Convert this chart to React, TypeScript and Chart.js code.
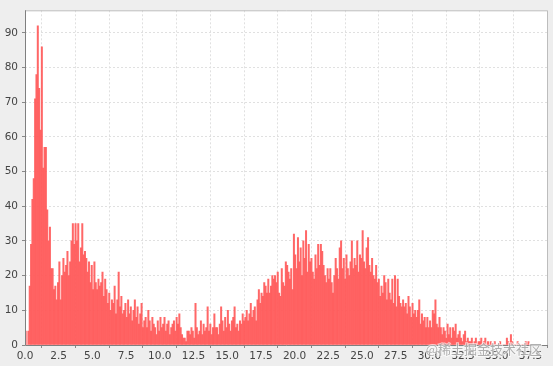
import React, { useEffect, useRef } from "react";
import { Chart, registerables } from "chart.js";

Chart.register(...registerables);

// Histogram bin width and counts (bins start at 0.0, step 0.1)
const binWidth = 0.1;
const counts: number[] = [
  // 0.0 - 0.9
  4, 0, 4, 17, 29, 42, 48, 71, 78, 92,
  // 1.0
  74, 62, 86, 51, 57, 57, 39, 30, 34, 22,
  // 2.0
  22, 16, 17, 13, 18, 24, 13, 20, 25, 21,
  // 3.0
  23, 27, 20, 24, 30, 35, 29, 35, 30, 35,
  // 4.0
  24, 28, 35, 26, 27, 25, 21, 24, 18, 23,
  // 5.0
  16, 24, 18, 16, 19, 17, 18, 21, 14, 19,
  // 6.0
  16, 12, 15, 10, 13, 12, 17, 9, 13, 21,
  // 7.0
  11, 14, 9, 10, 12, 8, 13, 9, 11, 7,
  // 8.0
  10, 13, 8, 11, 6, 9, 12, 5, 7, 8,
  // 9.0
  5, 10, 7, 4, 8, 6, 5, 3, 7, 4,
  // 10.0
  8, 5, 6, 8, 4, 6, 7, 3, 5, 6,
  // 11.0
  7, 4, 8, 6, 9, 5, 3, 2, 2, 1,
  // 12.0
  4, 4, 3, 5, 4, 2, 12, 5, 3, 4,
  // 13.0
  7, 3, 6, 4, 5, 11, 4, 6, 3, 5,
  // 14.0
  9, 5, 5, 3, 6, 11, 7, 4, 8, 5,
  // 15.0
  10, 6, 4, 7, 8, 11, 5, 6, 4, 7,
  // 16.0
  6, 9, 7, 8, 10, 7, 9, 12, 8, 10,
  // 17.0
  11, 7, 13, 16, 12, 15, 14, 18, 17, 15,
  // 18.0
  19, 15, 17, 20, 19, 20, 18, 21, 15, 14,
  // 19.0
  22, 18, 17, 24, 23, 21, 19, 22, 16, 32,
  // 20.0
  26, 22, 31, 24, 28, 20, 30, 25, 33, 21,
  // 21.0
  29, 24, 25, 21, 19, 26, 22, 29, 23, 29,
  // 22.0
  27, 23, 20, 18, 22, 19, 22, 18, 15, 20,
  // 23.0
  25, 22, 19, 28, 30, 22, 25, 19, 26, 22,
  // 24.0
  20, 24, 30, 22, 25, 23, 30, 21, 26, 25,
  // 25.0
  33, 24, 22, 28, 31, 23, 21, 25, 20, 19,
  // 26.0
  23, 18, 19, 14, 17, 15, 20, 18, 13, 19,
  // 27.0
  15, 13, 19, 12, 20, 11, 19, 14, 12, 11,
  // 28.0
  13, 11, 12, 9, 14, 11, 8, 12, 9, 10,
  // 29.0
  8, 10, 13, 6, 9, 7, 8, 5, 8, 5,
  // 30.0
  7, 5, 10, 9, 13, 6, 5, 8, 5, 3,
  // 31.0
  5, 4, 2, 6, 3, 5, 2, 5, 4, 6,
  // 32.0
  2, 3, 4, 2, 1, 3, 4, 1, 2, 1,
  // 33.0
  1, 2, 0, 1, 2, 0, 1, 1, 2, 0,
  // 34.0
  1, 2, 0, 1, 0, 1, 0, 0, 1, 0,
  // 35.0
  0, 0, 1, 0, 0, 0, 0, 2, 1, 0,
  // 36.0
  3, 1, 0, 0, 0, 1, 0, 0, 0, 0,
  // 37.0
  0, 1, 0, 1, 0,
];

const xTicks: number[] = [0, 2.5, 5, 7.5, 10, 12.5, 15, 17.5, 20, 22.5, 25, 27.5, 30, 32.5, 35, 37.5];
const yTicks: number[] = [0, 10, 20, 30, 40, 50, 60, 70, 80, 90];
const watermark = "@稀土掘金技术社区";

const framePlugin = {
  id: "frame",
  beforeDraw(chart: any) {
    const { ctx, chartArea: a, width, height } = chart;
    ctx.save();
    ctx.fillStyle = "#eeeeee";
    ctx.fillRect(0, 0, width, height);
    ctx.fillStyle = "#ffffff";
    ctx.fillRect(a.left, a.top, a.right - a.left, a.bottom - a.top);
    ctx.restore();
  },
  afterDraw(chart: any) {
    const { ctx, chartArea: a } = chart;
    ctx.save();
    ctx.lineWidth = 1;
    ctx.strokeStyle = "#bdbdbd";
    ctx.beginPath();
    ctx.moveTo(a.left, a.top + 0.5);
    ctx.lineTo(a.right - 0.5, a.top + 0.5);
    ctx.lineTo(a.right - 0.5, a.bottom);
    ctx.stroke();
    ctx.strokeStyle = "#7f7f7f";
    ctx.beginPath();
    ctx.moveTo(a.left + 0.5, a.top);
    ctx.lineTo(a.left + 0.5, a.bottom + 0.5);
    ctx.lineTo(a.right, a.bottom + 0.5);
    ctx.stroke();
    // watermark
    ctx.font = "13px 'Noto Sans CJK SC'";
    ctx.textAlign = "right";
    ctx.textBaseline = "middle";
    ctx.lineWidth = 2;
    ctx.strokeStyle = "rgba(255,255,255,0.6)";
    ctx.strokeText(watermark, a.right - 6, a.bottom + 4);
    ctx.fillStyle = "rgba(150,150,150,0.75)";
    ctx.fillText(watermark, a.right - 6, a.bottom + 4);
    ctx.restore();
  },
};

export default function App() {
  const ref = useRef<HTMLCanvasElement | null>(null);

  useEffect(() => {
    if (!ref.current) return;
    const data = counts.map((c, i) => ({ x: (i + 0.5) * binWidth, y: c }));
    const font = { family: "'DejaVu Sans', sans-serif", size: 10.5 };
    const chart = new Chart(ref.current, {
      type: "bar",
      data: {
        datasets: [
          {
            data: data as any,
            backgroundColor: "rgba(255,90,90,0.92)",
            borderWidth: 0,
            barPercentage: 1,
            categoryPercentage: 1,
          },
        ],
      },
      options: {
        animation: false,
        responsive: false,
        maintainAspectRatio: false,
        devicePixelRatio: 1,
        layout: { padding: { top: 6, right: 5, left: 0, bottom: 0 } },
        plugins: { legend: { display: false }, tooltip: { enabled: false } },
        scales: {
          x: {
            type: "linear",
            min: 0,
            max: 38.8,
            offset: false,
            afterBuildTicks: (s: any) => {
              s.ticks = xTicks.map((v) => ({ value: v }));
            },
            afterFit: (s: any) => {
              s.height = 21;
            },
            ticks: {
              autoSkip: false,
              maxRotation: 0,
              padding: 2,
              color: "#444444",
              font,
              callback: (v: any) => Number(v).toFixed(1),
            },
            grid: {
              color: "#e0e0e0",
              tickColor: "#888888",
              tickLength: 3,
              lineWidth: 1,
            },
            border: { display: false, dash: [2, 2] },
          },
          y: {
            type: "linear",
            min: 0,
            max: 96.5,
            afterBuildTicks: (s: any) => {
              s.ticks = yTicks.map((v) => ({ value: v }));
            },
            afterFit: (s: any) => {
              s.width = 25;
            },
            ticks: {
              autoSkip: false,
              padding: 4,
              color: "#444444",
              font,
              callback: (v: any) => String(v),
            },
            grid: {
              color: "#e0e0e0",
              tickColor: "#888888",
              tickLength: 3,
              lineWidth: 1,
            },
            border: { display: false, dash: [2, 2] },
          },
        },
      },
      plugins: [framePlugin],
    });
    return () => chart.destroy();
  }, []);

  return (
    <div style={{ position: "fixed", left: 0, top: 0, width: 553, height: 366 }}>
      <canvas ref={ref} width={553} height={366} style={{ display: "block" }} />
    </div>
  );
}
